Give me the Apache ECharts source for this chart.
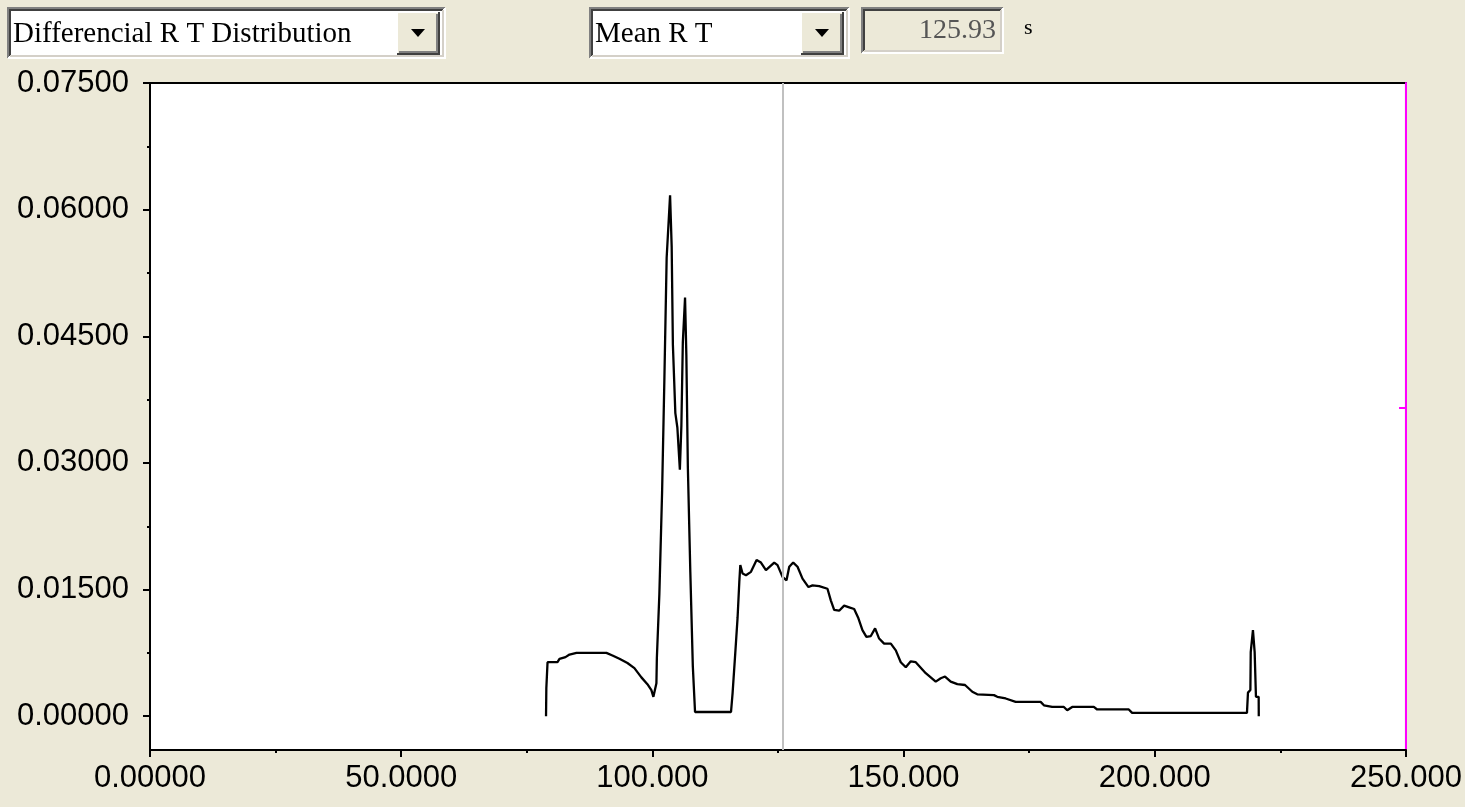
<!DOCTYPE html>
<html>
<head>
<meta charset="utf-8">
<script src="https://cdn.jsdelivr.net/npm/echarts@6/dist/echarts.min.js"></script>
<style>
html,body{margin:0;padding:0;background:#ECE9D8;}
#chart{width:1465px;height:807px;}
</style>
</head>
<body>
<div id="chart"></div>
<script>
// ---- data ----
const rtValues = [78.83,78.89,79.13,81.11,81.51,82.70,83.50,84.89,90.85,92.05,93.44,95.03,96.42,97.81,99.01,99.80,100.20,100.50,100.80,100.89,101.39,101.93,102.39,102.84,103.52,103.84,104.08,104.57,104.97,105.47,105.77,106.06,106.50,106.76,107.06,107.55,108.05,108.49,115.65,115.96,116.50,116.96,117.30,117.50,117.95,118.63,119.62,120.74,121.61,122.60,124.25,124.91,125.90,126.70,127.24,128.03,128.89,129.88,131.07,131.87,133.20,134.85,135.53,136.18,137.18,138.17,139.17,140.16,141.01,141.81,142.60,143.48,144.33,145.13,146.12,147.46,148.45,149.44,150.44,151.43,152.42,154.41,156.40,157.40,158.25,159.38,160.70,162.23,163.68,164.67,167.99,168.65,170.32,172.31,177.28,177.93,179.58,181.91,182.57,183.56,187.87,188.53,194.83,195.49,218.35,218.55,219.03,219.10,219.48,219.54,219.88,220.14,220.68,220.70];
const densityValues = [0.0000,0.0033,0.0064,0.0064,0.0068,0.0070,0.0073,0.0075,0.0075,0.0072,0.0068,0.0063,0.0057,0.0046,0.0038,0.0031,0.0023,0.0031,0.0039,0.0069,0.0145,0.0265,0.0400,0.0543,0.0617,0.0556,0.0440,0.0359,0.0342,0.0292,0.0344,0.0443,0.0496,0.0428,0.0295,0.0171,0.0059,0.0005,0.0005,0.0027,0.0075,0.0117,0.0159,0.0179,0.0169,0.0167,0.0171,0.0185,0.0182,0.0173,0.0182,0.0179,0.0165,0.0161,0.0177,0.0182,0.0177,0.0163,0.0153,0.0155,0.0154,0.0151,0.0137,0.0126,0.0125,0.0131,0.0129,0.0127,0.0116,0.0102,0.0094,0.0095,0.0104,0.0092,0.0086,0.0086,0.0078,0.0064,0.0058,0.0065,0.0064,0.0051,0.0041,0.0045,0.0047,0.0041,0.0038,0.0037,0.0029,0.0026,0.0025,0.0023,0.0021,0.0017,0.0017,0.0013,0.0011,0.0011,0.0007,0.0011,0.0011,0.0008,0.0008,0.0004,0.0004,0.0028,0.0031,0.0076,0.0078,0.0102,0.0076,0.0023,0.0023,0.0000];
const meanRT = 125.93;
const yTickValues = [0, 0.015, 0.03, 0.045, 0.06, 0.075];
const yMinorTickValues = [0.0075, 0.0225, 0.0375, 0.0525, 0.0675];
const rightMarkerValues = [0.0365];
const selectorLabel = 'Differencial R T Distribution';
const statLabel = 'Mean R T';
const statValueText = '125.93';
const statUnit = 's';

const points = rtValues.map((x, i) => [x, densityValues[i]]);

// ---- windows-like widgets ----
function sunkenBox(x, y, w, h, fill) {
  return [
    {type:'rect', shape:{x:x, y:y, width:w, height:h}, style:{fill:fill}},
    {type:'polyline', shape:{points:[[x, y+h],[x, y],[x+w, y]]}, style:{stroke:'#808080', lineWidth:2, fill:null}},
    {type:'polyline', shape:{points:[[x+2, y+h-2],[x+2, y+2],[x+w-2, y+2]]}, style:{stroke:'#404040', lineWidth:2, fill:null}},
    {type:'polyline', shape:{points:[[x, y+h],[x+w, y+h],[x+w, y]]}, style:{stroke:'#FFFFFF', lineWidth:2, fill:null}},
    {type:'polyline', shape:{points:[[x+2, y+h-2],[x+w-2, y+h-2],[x+w-2, y+2]]}, style:{stroke:'#D4D0C8', lineWidth:2, fill:null}}
  ];
}
function dropButton(x, y, w, h) {
  const cx = x + w/2, cy = y + h/2;
  return [
    {type:'rect', shape:{x:x, y:y, width:w, height:h}, style:{fill:'#ECE9D8'}},
    {type:'polyline', shape:{points:[[x, y+h],[x, y],[x+w, y]]}, style:{stroke:'#FFFFFF', lineWidth:2, fill:null}},
    {type:'polyline', shape:{points:[[x, y+h],[x+w, y+h],[x+w, y]]}, style:{stroke:'#404040', lineWidth:2, fill:null}},
    {type:'polyline', shape:{points:[[x+2, y+h-2],[x+w-2, y+h-2],[x+w-2, y+2]]}, style:{stroke:'#808080', lineWidth:2, fill:null}},
    {type:'polygon', shape:{points:[[cx-7, cy-4],[cx+7, cy-4],[cx, cy+4]]}, style:{fill:'#000'}}
  ];
}
function combo(x, y, w, h, label) {
  return [].concat(
    sunkenBox(x, y, w, h, '#FFFFFF'),
    dropButton(x + w - 48, y + 4, 42, h - 8),
    [{type:'text', style:{x:x+5, y:y+h/2+1, text:label, font:'29px "Liberation Serif"', fill:'#000', textVerticalAlign:'middle'}}]
  );
}

const widgets = [].concat(
  combo(8, 8, 437, 50, selectorLabel),
  combo(590, 8, 259, 50, statLabel),
  sunkenBox(862, 8, 141, 45, '#ECE9D8'),
  [
    {type:'text', style:{x:996, y:31, text:statValueText, font:'28px "Liberation Serif"', fill:'#555555', textAlign:'right', textVerticalAlign:'middle'}},
    {type:'text', style:{x:1024, y:28, text:statUnit, font:'22px "Liberation Serif"', fill:'#000', textVerticalAlign:'middle'}}
  ]
);

const chart = echarts.init(document.getElementById('chart'), null, {renderer:'canvas'});
const yMin = -0.004, yMax = 0.075;
const labelFont = {fontFamily:'"Liberation Sans", Arial, sans-serif', fontSize:31, color:'#000'};

chart.setOption({
  backgroundColor:'#ECE9D8',
  animation:false,
  grid:{left:150, right:58, top:83, bottom:57, show:true, backgroundColor:'#FFFFFF', borderColor:'#000', borderWidth:2},
  xAxis:{
    type:'value', min:0, max:250, interval:50,
    axisLine:{show:true, onZero:false, lineStyle:{color:'#000', width:2}},
    axisTick:{show:true, length:7, lineStyle:{color:'#000', width:2}},
    minorTick:{show:true, splitNumber:2, length:3, lineStyle:{color:'#000', width:2}},
    splitLine:{show:false},
    axisLabel:Object.assign({margin:13, formatter:v => v.toPrecision(6)}, labelFont)
  },
  yAxis:[
    {
      type:'value', min:yMin, max:yMax, position:'left',
      axisLine:{show:true, onZero:false, lineStyle:{color:'#000', width:2}},
      axisTick:{show:true, length:7, customValues:yTickValues, lineStyle:{color:'#000', width:2}},
      splitLine:{show:false},
      axisLabel:Object.assign({margin:21, customValues:yTickValues, formatter:v => v.toFixed(5)}, labelFont)
    },
    {
      type:'value', min:yMin, max:yMax, position:'left',
      axisLine:{show:false},
      axisTick:{show:true, length:3, customValues:yMinorTickValues, lineStyle:{color:'#000', width:2}},
      axisLabel:{show:false}, splitLine:{show:false}
    },
    {
      type:'value', min:yMin, max:yMax, position:'right',
      axisLine:{show:true, onZero:false, lineStyle:{color:'#FF00FF', width:2}},
      axisTick:{show:true, inside:true, length:7, customValues:rightMarkerValues, lineStyle:{color:'#FF00FF', width:2}},
      axisLabel:{show:false}, splitLine:{show:false}
    }
  ],
  series:[{
    type:'line', data:points, showSymbol:false, yAxisIndex:0,
    lineStyle:{color:'#000', width:2.3}, itemStyle:{color:'#000'},
    markLine:{
      silent:true, symbol:['none','none'], label:{show:false},
      lineStyle:{color:'#C0C0C0', width:2, type:'solid'},
      data:[{xAxis:meanRT}]
    },
    z:3
  }],
  graphic:widgets
});
</script>
</body>
</html>
